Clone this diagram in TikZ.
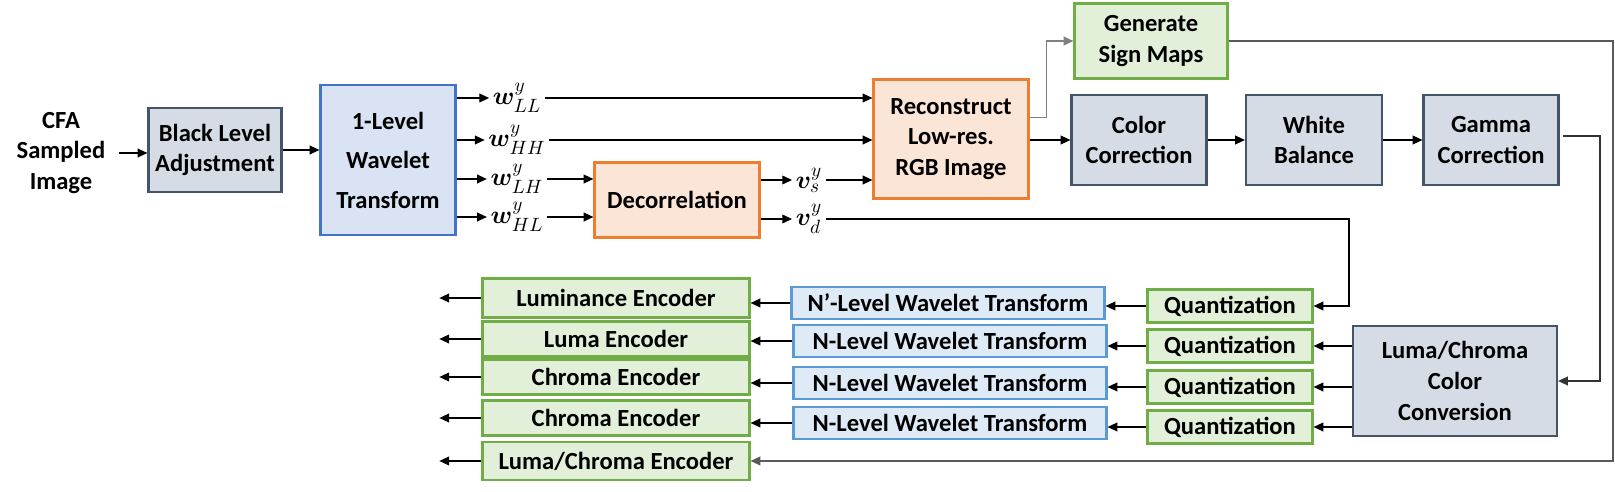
\documentclass[tikz,border=0pt]{standalone}
\usepackage[no-math]{fontspec}
\setmainfont{Carlito}
\usepackage{amsmath,bm}
\usetikzlibrary{arrows.meta}

\definecolor{slatefill}{HTML}{D6DCE5}
\definecolor{slateedge}{HTML}{44546A}
\definecolor{wtfill}{HTML}{DAE3F3}
\definecolor{wtedge}{HTML}{4472C4}
\definecolor{orfill}{HTML}{FBE5D6}
\definecolor{oredge}{HTML}{ED7D31}
\definecolor{grfill}{HTML}{E2F0D9}
\definecolor{gredge}{HTML}{70AD47}
\definecolor{nwfill}{HTML}{DEEBF7}
\definecolor{nwedge}{HTML}{5B9BD5}

\begin{document}
\begin{tikzpicture}[x=0.02cm, y=-0.02cm, >={Triangle[length=5.5pt,width=5pt]},
    every node/.style={font=\fontsize{14}{17.5}\selectfont\bfseries, align=center},
    blk/.style={draw, line width=1.3pt, inner sep=2pt},
    slatebox/.style={blk, draw=slateedge, fill=slatefill},
    wtbox/.style={blk, draw=wtedge, fill=wtfill},
    orbox/.style={blk, draw=oredge, fill=orfill},
    grbox/.style={blk, draw=gredge, fill=grfill},
    nwbox/.style={blk, draw=nwedge, fill=nwfill, minimum width=6.26cm, minimum height=0.64cm},
    quant/.style={grbox, minimum width=3.3cm, minimum height=0.66cm},
    enc/.style={grbox, minimum width=5.34cm, minimum height=0.7cm},
    lbl/.style={font=\fontsize{15}{18}\selectfont, inner sep=2pt},
    conn/.style={->, line width=0.6pt}]
    \useasboundingbox (0,0) rectangle (1615,492);

    % top row
    \node (cfa) at (61,153) {CFA\\Sampled\\Image};
    \node[slatebox, minimum width=2.66cm, minimum height=1.68cm] (blc) at (215,150) {Black Level\\Adjustment};
    \node[wtbox, minimum width=2.7cm, minimum height=3cm] (wt1) at (388,160) {1-Level\\[5pt]Wavelet\\[5pt]Transform};

    \node[lbl] (wll) at (517,98) {$\bm{w}^{y}_{LL}$};
    \node[lbl] (whh) at (517,140) {$\bm{w}^{y}_{HH}$};
    \node[lbl] (wlh) at (517,179) {$\bm{w}^{y}_{LH}$};
    \node[lbl] (whl) at (517,217) {$\bm{w}^{y}_{HL}$};

    \node[orbox, minimum width=3.3cm, minimum height=1.5cm] (dec) at (677,200) {Decorrelation};
    \node[lbl] (vs) at (809,180) {$\bm{v}^{y}_{s}$};
    \node[lbl] (vd) at (809,219) {$\bm{v}^{y}_{d}$};

    \node[orbox, minimum width=3.1cm, minimum height=2.38cm] (rec) at (951,139) {Reconstruct\\Low-res.\\RGB Image};
    \node[grbox, minimum width=3.06cm, minimum height=1.5cm] (gsm) at (1151,41) {Generate\\Sign Maps};
    \node[slatebox, minimum width=2.7cm, minimum height=1.8cm] (cc) at (1139,140) {Color\\Correction};
    \node[slatebox, minimum width=2.72cm, minimum height=1.8cm] (wb) at (1314,140) {White\\Balance};
    \node[slatebox, minimum width=2.7cm, minimum height=1.8cm] (gc) at (1491,140) {Gamma\\Correction};

    % bottom rows
    \node[slatebox, minimum width=4.08cm, minimum height=2.2cm] (lcc) at (1455,381) {Luma/Chroma\\Color\\Conversion};
    \node[quant] (q1) at (1230,306) {Quantization};
    \node[quant] (q2) at (1230,346) {Quantization};
    \node[quant] (q3) at (1230,387) {Quantization};
    \node[quant] (q4) at (1230,427) {Quantization};
    \node[nwbox] (nw1) at (948,303) {N’-Level Wavelet Transform};
    \node[nwbox] (nw2) at (950,341) {N-Level Wavelet Transform};
    \node[nwbox] (nw3) at (950,383) {N-Level Wavelet Transform};
    \node[nwbox] (nw4) at (950,423) {N-Level Wavelet Transform};
    \node[enc, minimum height=0.78cm] (enc1) at (616,298) {Luminance Encoder};
    \node[enc] (enc2) at (616,339) {Luma Encoder};
    \node[enc] (enc3) at (616,377) {Chroma Encoder};
    \node[enc] (enc4) at (616,418) {Chroma Encoder};
    \node[enc, minimum height=0.76cm] (enc5) at (616,461) {Luma/Chroma Encoder};

    \coordinate (vdturn) at (1349,219);
    \coordinate (gcturn) at (1600,136);
    \coordinate (gsmturn) at (1613,41);

    % connectors
    \draw[conn, shorten <=4pt] (cfa.east) -- (cfa.east -| blc.west);
    \draw[conn] (blc.east) -- (blc.east -| wt1.west);
    \foreach \w in {wll, whh, wlh, whl}
      \draw[conn] (wt1.east |- \w) -- (\w.west);
    \draw[conn] (wll.east) -- (wll -| rec.west);
    \draw[conn] (whh.east) -- (whh -| rec.west);
    \draw[conn] (wlh.east) -- (wlh -| dec.west);
    \draw[conn] (whl.east) -- (whl -| dec.west);
    \draw[conn] (dec.east |- vs) -- (vs.west);
    \draw[conn] (dec.east |- vd) -- (vd.west);
    \draw[conn] (vs.east) -- (vs -| rec.west);
    \draw[conn, draw=gray] ([yshift=12pt]rec.east) -- ++(17,0) |- (gsm.west);
    \draw[conn] (rec.east |- cc) -- (cc.west);
    \draw[conn] (cc.east) -- (wb.west);
    \draw[conn] (wb.east) -- (gc.west);
    \draw[conn, draw=black!80, shorten <=2pt] (gc.east |- gcturn) -- (gcturn) |- (lcc.east);
    \draw[conn, draw=black!65] (gsm.east) -- (gsmturn) |- (enc5.east);
    \draw[conn] (vd.east) -- (vdturn) |- (q1.east);
    \foreach \q in {q2, q3, q4}
      \draw[conn] (lcc.west |- \q) -- (\q.east);
    \foreach \q/\n in {q1/nw1, q2/nw2, q3/nw3, q4/nw4}
      \draw[conn] (\q.west) -- (\q -| \n.east);
    \foreach \n/\e in {nw1/enc1, nw2/enc2, nw3/enc3, nw4/enc4}
      \draw[conn] (\n.west) -- (\n -| \e.east);
    \foreach \e in {enc1, enc2, enc3, enc4, enc5}
      \draw[conn] (\e.west) -- ++(-42,0);
\end{tikzpicture}
\end{document}
